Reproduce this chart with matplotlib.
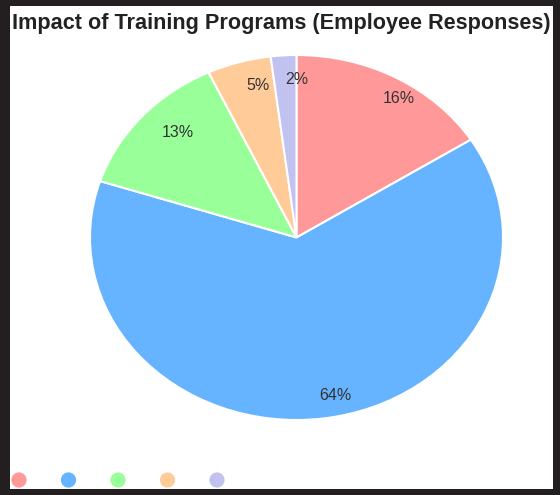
import numpy as np
import matplotlib.pyplot as plt
from matplotlib.patches import Rectangle

# employee response shares (percent)
shares = [16, 64, 13, 5, 2]
slice_colors = ['#ff9999', '#66b3ff', '#99ff99', '#ffcc99', '#c2c2f0']
title = 'Impact of Training Programs (Employee Responses)'

W, H = 560, 495
fig = plt.figure(figsize=(W / 100, H / 100), dpi=100)
fig.patch.set_facecolor('#231f20')

# white panel inside the dark frame
fig.add_artist(Rectangle((10 / W, 6 / H), 543 / W, 483 / H,
                         transform=fig.transFigure, facecolor='white',
                         edgecolor='none', zorder=0))

fig.text(281 / W, 1 - 29 / H, title, ha='center', va='baseline',
         fontsize=15.6, fontweight='bold', family='Liberation Sans',
         color='#222222')

ax = fig.add_axes([90 / W, 75 / H, 413 / W, 365 / H])
wedges, texts, pct = ax.pie(
    shares, colors=slice_colors, startangle=90, counterclock=False,
    autopct='%1.0f%%', pctdistance=0.87,
    wedgeprops=dict(edgecolor='white', linewidth=1.5),
    textprops=dict(fontsize=11.5, family='Liberation Sans', color='#333333'))
for t in pct:
    t.set_horizontalalignment('left')
ax.set_aspect('auto')
ax.set_xlim(-1, 1)
ax.set_ylim(-1, 1)

# legend dots along the bottom
lax = fig.add_axes([19 / W, 6 / H, 198 / W, 20 / H])
lax.scatter(np.arange(len(shares)), [0.45] * len(shares), c=slice_colors,
            s=120, clip_on=False, edgecolors='none')
lax.set_xlim(0, len(shares) - 1)
lax.set_ylim(0, 1)
lax.axis('off')

fig.savefig('out.png', dpi=100, facecolor=fig.get_facecolor())
